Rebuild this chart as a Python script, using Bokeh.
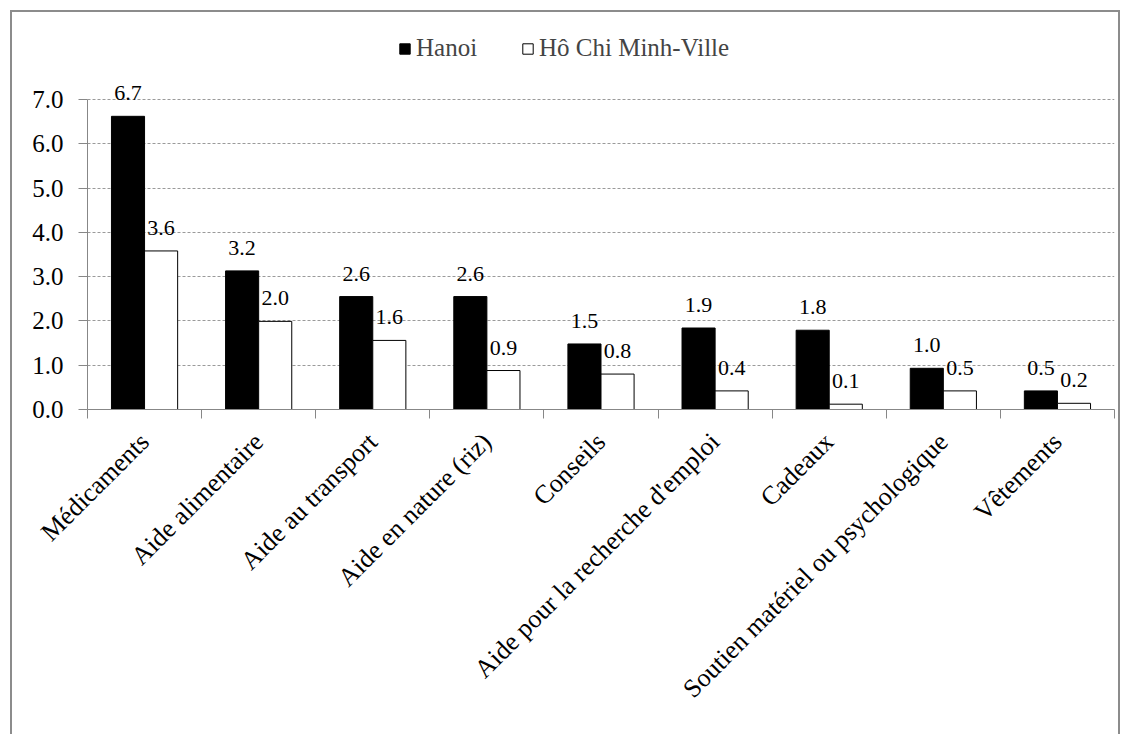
import math
from bokeh.plotting import figure
from bokeh.models import (Range1d, FixedTicker, NumeralTickFormatter, Legend,
                          LegendItem, ColumnDataSource)
from bokeh.transform import dodge
from bokeh.core.properties import value
from bokeh.embed import file_html
from bokeh.resources import INLINE

# ---------------- data ----------------
categories = ["Médicaments", "Aide alimentaire", "Aide au transport",
              "Aide en nature (riz)", "Conseils",
              "Aide pour la recherche d'emploi", "Cadeaux",
              "Soutien matériel ou psychologique", "Vêtements"]
hanoi = [6.62, 3.13, 2.55, 2.55, 1.48, 1.84, 1.79, 0.93, 0.42]
hcm = [3.58, 1.99, 1.56, 0.88, 0.80, 0.42, 0.12, 0.42, 0.14]
hanoi_labels = ["6.7", "3.2", "2.6", "2.6", "1.5", "1.9", "1.8", "1.0", "0.5"]
hcm_labels = ["3.6", "2.0", "1.6", "0.9", "0.8", "0.4", "0.1", "0.5", "0.2"]
series_names = ["Hanoi", "Hô Chi Minh-Ville"]
y_ticks = [0, 1, 2, 3, 4, 5, 6, 7]

# ---------------- layout / style ----------------
FONT = "Liberation Serif"
GREY = "#878787"
BORDER = "#8c8c8c"

n = len(categories)
centers = [i + 0.5 for i in range(n)]
boundaries = [float(i) for i in range(n + 1)]

W, H = 1120, 734
LEFT, RIGHT, BOTTOM = 87, 6, 325

src = ColumnDataSource(dict(x=centers, hanoi=hanoi, hcm=hcm,
                            hanoi_lbl=hanoi_labels, hcm_lbl=hcm_labels))

p = figure(width=W, height=H, x_range=Range1d(0, n), y_range=Range1d(0, 9.235),
           output_backend="svg", toolbar_location=None,
           min_border_left=LEFT, min_border_right=RIGHT, min_border_top=0,
           min_border_bottom=BOTTOM)
p.outline_line_color = None
p.background_fill_color = None
p.border_fill_color = None
# outer chart-area border (purely visual, does not change layout)
p.styles = {"box-shadow": (f"inset 10px 10px 0 0 white, "
                           f"inset 12px 12px 0 0 {BORDER}, inset -2px 0 0 0 {BORDER}"),
            "background-color": "white"}

BW = 0.29
r1 = p.vbar(x=dodge("x", -BW / 2, range=p.x_range), top="hanoi", width=BW,
            source=src, fill_color="black", line_color="black", line_width=1)
r2 = p.vbar(x=dodge("x", BW / 2, range=p.x_range), top="hcm", width=BW,
            source=src, fill_color="white", line_color="black", line_width=1)

p.text(x=dodge("x", -BW / 2, range=p.x_range), y="hanoi", text="hanoi_lbl", source=src,
       text_font=value(FONT), text_font_size="22px", text_align="center",
       text_baseline="middle", y_offset=-23, text_color="black")
p.text(x=dodge("x", BW / 2, range=p.x_range), y="hcm", text="hcm_lbl", source=src,
       text_font=value(FONT), text_font_size="22px", text_align="center",
       text_baseline="middle", y_offset=-23, text_color="black")

# y axis
yax = p.yaxis[0]
yax.ticker = FixedTicker(ticks=y_ticks)
yax.formatter = NumeralTickFormatter(format="0.0")
yax.bounds = (0, 7)
yax.axis_line_color = GREY
yax.major_tick_line_color = GREY
yax.major_tick_out = 9
yax.major_tick_in = 0
yax.minor_tick_line_color = None
yax.major_label_text_font = FONT
yax.major_label_text_font_size = "25px"
yax.major_label_text_color = "black"
yax.major_label_standoff = 15

# x axis: ticks between categories, labels at category centres
xax = p.xaxis[0]
xax.ticker = FixedTicker(ticks=centers, minor_ticks=boundaries)
xax.major_label_overrides = {c: name for c, name in zip(centers, categories)}
xax.axis_line_color = GREY
xax.major_tick_line_color = None
xax.major_tick_out = 0
xax.major_tick_in = 0
xax.minor_tick_line_color = GREY
xax.minor_tick_out = 9
xax.minor_tick_in = 0
xax.major_label_orientation = math.pi / 4
xax.major_label_text_font = FONT
xax.major_label_text_font_size = "26px"
xax.major_label_text_color = "black"
xax.major_label_standoff = 19

# grid
p.xgrid.visible = False
p.ygrid.ticker = FixedTicker(ticks=y_ticks[1:])
p.ygrid.grid_line_color = "#9a9a9a"
p.ygrid.grid_line_dash = "3 2"
p.ygrid.grid_line_width = 1

legend = Legend(items=[LegendItem(label=series_names[0], renderers=[r1]),
                       LegendItem(label=series_names[1], renderers=[r2])],
                orientation="horizontal", location=(398 - LEFT, 347),
                label_text_font=FONT, label_text_font_size="25px",
                glyph_width=13, glyph_height=13, label_standoff=5, label_width=70,
                spacing=35, border_line_color=None, background_fill_alpha=0,
                padding=0, margin=0)
p.add_layout(legend, "center")

open("out.html", "w").write(file_html(p, INLINE))
